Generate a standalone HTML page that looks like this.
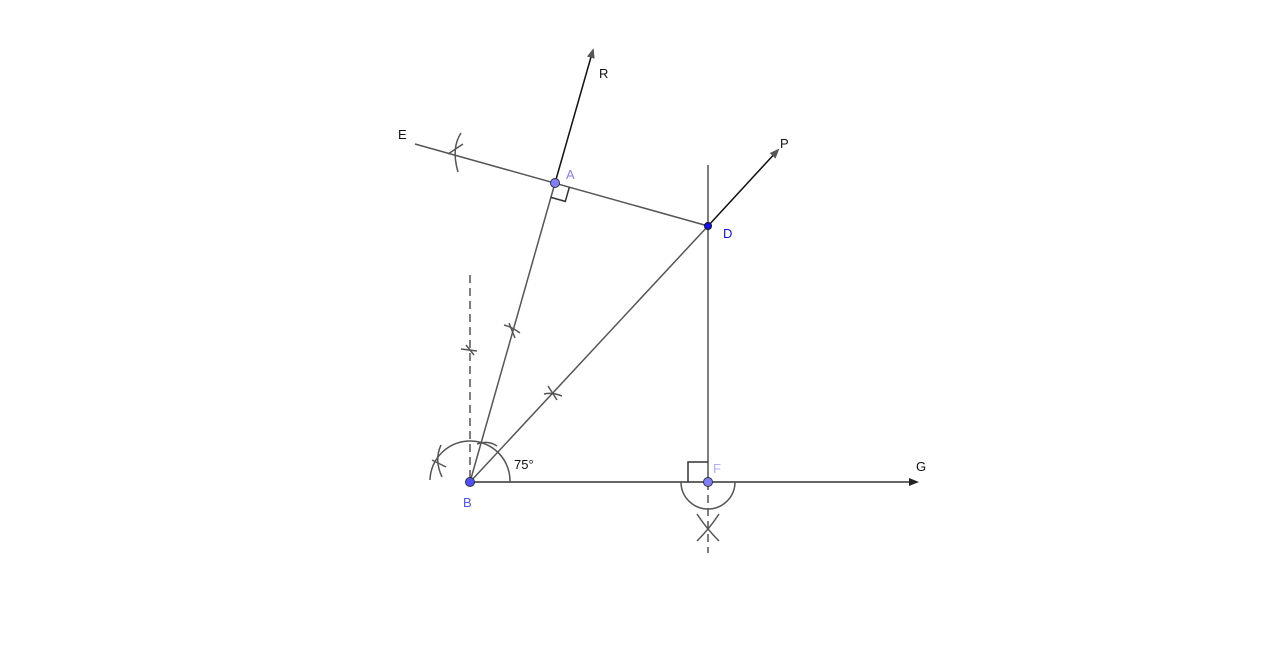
<!DOCTYPE html>
<html><head><style>body{margin:0;background:#fff}svg{display:block}text{font-family:"Liberation Sans",sans-serif;font-size:13px}</style></head><body>
<svg width="1280" height="648" viewBox="0 0 1280 648">
<defs><marker id="ar" markerWidth="10" markerHeight="8" refX="8" refY="4" orient="auto" markerUnits="userSpaceOnUse"><path d="M0,0 L10,4 L0,8 z" fill="#222"/></marker>
<marker id="ag" markerWidth="10" markerHeight="8" refX="8" refY="4" orient="auto" markerUnits="userSpaceOnUse"><path d="M0,0 L10,4 L0,8 z" fill="#555"/></marker></defs>
<g stroke="#555" stroke-width="1.5" fill="none">
<line x1="470" y1="482" x2="555" y2="183"/>
<line x1="555" y1="183" x2="593" y2="50" stroke="#111" marker-end="url(#ag)"/>
<line x1="415" y1="144" x2="708" y2="226"/>
<line x1="470" y1="482" x2="708" y2="226"/>
<line x1="708" y1="226" x2="778" y2="150" stroke="#111" marker-end="url(#ag)"/>
<line x1="708" y1="165" x2="708" y2="482"/>
<line x1="470" y1="482" x2="917" y2="482" stroke="#333" marker-end="url(#ar)"/>
<line x1="470" y1="275" x2="470" y2="482" stroke-dasharray="8,5"/>
<line x1="708" y1="482" x2="708" y2="553" stroke-dasharray="8,5"/>
<path d="M510,482 A40,40 0 0 0 430,480"/>
<path d="M681,482 A27,27 0 0 0 735,482"/>
<path d="M441,445 Q434,460 442,477"/>
<path d="M432,460 L446,467"/>
<path d="M477,444 Q488,440 497,446"/>
<path d="M461,133 Q451,148 458,172"/>
<path d="M448,154 L463,144"/>
<path d="M504,325 Q512,327 520,333"/>
<path d="M509,323 L515,338"/>
<path d="M544,394 Q552,392 562,396"/>
<path d="M548,386 L557,400"/>
<path d="M461,349 L477,351"/>
<path d="M466,345 L474,355"/>
<path d="M697,514 Q706,528 719,541"/>
<path d="M719,514 Q710,528 697,541"/>
<path d="M569.4,187 L565.3,201.4 L551,197.4" stroke="#333"/>
<path d="M688,482 L688,462 L708,462" stroke="#333"/>
</g>
<circle cx="555" cy="183" r="4.5" fill="#7f7fff" stroke="#333"/>
<circle cx="708" cy="226" r="3.5" fill="#1010ff" stroke="#111"/>
<circle cx="470" cy="482" r="4.5" fill="#5050ff" stroke="#333"/>
<circle cx="708" cy="482" r="4.5" fill="#8080ff" stroke="#333"/>
<text x="599" y="78" fill="#111">R</text>
<text x="398" y="139" fill="#111">E</text>
<text x="780" y="148" fill="#111">P</text>
<text x="566" y="179" fill="#8080ff">A</text>
<text x="723" y="238" fill="#1010ff">D</text>
<text x="514" y="469" fill="#111">75°</text>
<text x="463" y="507" fill="#5050ff">B</text>
<text x="713" y="473" fill="#b0b0ff">F</text>
<text x="916" y="471" fill="#111">G</text>
</svg>
</body></html>
